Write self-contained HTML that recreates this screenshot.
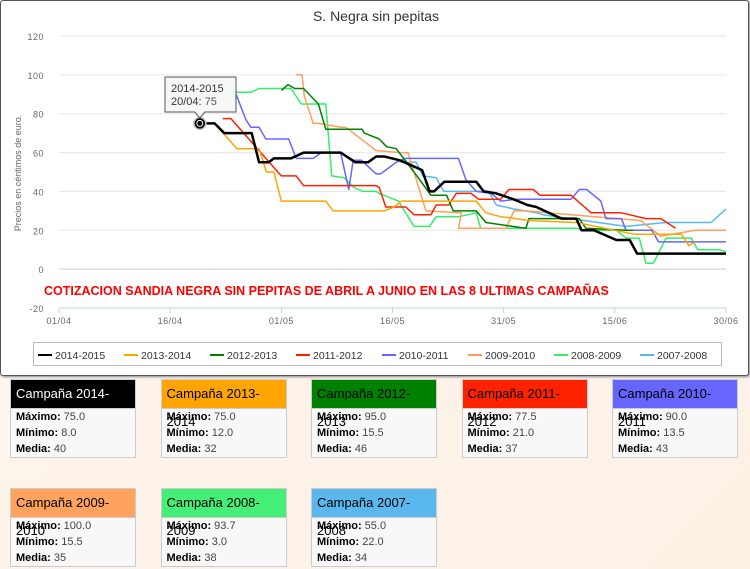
<!DOCTYPE html>
<html><head><meta charset="utf-8">
<style>
body{margin:0;width:750px;height:569px;background:linear-gradient(135deg,#fff 0%,#fdf3ea 40%,#fdf1e6 100%);font-family:"Liberation Sans",sans-serif;position:relative;overflow:hidden}
#chartbox{position:absolute;left:0;top:0;width:747px;height:374px;background:#fff;border:1px solid #555;border-radius:3px;box-shadow:1px 1px 2px #888}
.card{position:absolute;width:124px;height:77px;border:1px solid #ccc;background:#f8f8f8;font-family:"Liberation Sans Narrow","Liberation Sans",sans-serif}
.card .hd{height:28px;line-height:28px;padding-left:5px;font-size:13px;border-bottom:1px solid #ccc}
.card .row{font-size:11px;padding-left:5px;height:16px;line-height:16px;color:#444}
.card .row:first-of-type{margin-top:2px}
.card b{color:#000}
</style></head><body>
<div id="chartbox">
<svg id="svg" width="750" height="375"></svg>
</div>
<div id="cards"></div>
<script>
const NS="http://www.w3.org/2000/svg";
const tickLabelsY=[120,100,80,60,40,20,0,-20];
const tickLabelsX=["01/04","16/04","01/05","16/05","31/05","15/06","30/06"];
const tickDaysX=[0,15,30,45,60,75,90];
const seriesNames=["2014-2015","2013-2014","2012-2013","2011-2012","2010-2011","2009-2010","2008-2009","2007-2008"];
const seriesColors=["#000000","#ffa500","#008000","#ff2000","#6666ff","#ff9f5a","#33ee66","#55bbee"];
const d0=[19,21,22.3,26,27,28.3,29,31.3,33,38,40,41.7,42.8,43.9,46,49,50,50.6,52,56.3,57.3,59,61.3,63.2,64.4,67.8,69.8,70.5,72.2,75.2,77,78,90];
const v0=[75,75,70,70,55,55,57,57,60,60,55,55,58,58,56,51,40,40,45,45,40,39,36,33,32,26,26,20,20,15,15,8,8];
const d1=[21,24,27,28,29,30,36,37,43.9,45.2,46.2,56.3,57.6,59.6,63.6,69.8,77.6,84,85,85.8];
const v1=[75,62,62,50,50,35,35,30,30,32,35,35,29,27,25,24,18,18,12,14];
const d2=[30,30.9,31.8,33,35,36,40.9,41.2,43.2,44.2,45.5,47.9,50.2,52.3,53.2,56.3,57.6,63,63.4,70.2,71.1,76.5,77.5];
const v2=[92,95,93,93,85,72,72,70,67,63,62,50,38,38,30,30,24,21,26,26,21,20,20];
const d3=[22.1,23.2,30,32,33,42.8,43.2,44.1,46.8,47.9,50.2,50.9,52.6,53.6,55.6,56.6,59.6,60.7,64,64.9,69.1,71.8,75.9,79.2,81.2,83.2];
const v3=[77.5,77.5,48,48,43,43,42,32,32,28,28,33,33,39,39,36,36,41,41,38,38,29,29,26,26,21];
const d4=[23.9,25.2,25.9,27,27.9,31,32,34.3,35.4,38,39.1,39.7,40.8,42.8,43.4,45.5,46.7,53.9,54.9,56.3,58.3,59.6,61.7,69.1,70.2,71.2,73.1,73.8,75.9,76.5,80,80.9,90];
const v4=[90,77,73,73,67,67,57,57,60,60,41,56,56,49,49,55,57,57,46,40,39,35,36,36,41,41,35,26,26,20,20,14,14];
const d5=[32,32.8,33.1,34.3,35.1,38,38.7,42.8,46.1,47.1,49.5,54.3,53.9,56.3,60.3,61.4,63,78.5,81.2,85.9,90];
const v5=[100,100,89,75,75,73,73,61,60,60,30,29,21,21,21,30,30,25,17,20,20];
const d6=[23.2,25.9,27,31.3,32.7,36,36.8,38.5,39.8,41,42.8,43.2,45.8,47.9,50,50.9,54,56.3,56.9,69.8,71.1,75.2,76.5,78.3,79.2,80.2,81.9,85.3,86.2,89.1,90];
const v6=[91,91,93,93,85,85,48,47,42,40,40,39,35,22,22,27,27,29,21,21,20,20,16,16,3,3,16,16,10,10,9];
const d7=[46.1,48.2,49.1,50.9,51.9,58,59,61.3,64.4,65.3,76.5,81.9,88,90];
const v7=[55,55,48,47,40,40,33,31,29,28,22,24,24,31];
const seriesDays=[d0,d1,d2,d3,d4,d5,d6,d7];
const seriesVals=[v0,v1,v2,v3,v4,v5,v6,v7];
const yMin=-20,yMax=120,py0=307,py1=35,px0=58,px1=725,dayMax=90;
const X=d=>px0+(px1-px0)*d/dayMax;
const Y=v=>py0-(py0-py1)*(v-yMin)/(yMax-yMin);
const svg=document.getElementById('svg');
function mk(t,a,p){const e=document.createElementNS(NS,t);for(const k in a)e.setAttribute(k,a[k]);(p||svg).appendChild(e);return e;}
let t=mk('text',{x:375,y:20,'text-anchor':'middle','font-size':14,fill:'#333'});t.textContent='S. Negra sin pepitas';


tickLabelsY.forEach(v=>{
 const g=mk('line',{x1:px0,x2:px1,y1:Y(v),y2:Y(v),stroke:v===0?'#ccc':'#e6e6e6','stroke-width':1});
 
 
 const l=mk('text',{x:43,y:Y(v)+4,'text-anchor':'end','font-size':9,fill:'#666','letter-spacing':'0.5'});l.textContent=v;
 
 
});
const ax=mk('line',{x1:px0,x2:px1,y1:py0,y2:py0,stroke:'#c0d0e0'});


tickDaysX.forEach((d,i)=>{
 const tk=mk('line',{x1:X(d),x2:X(d),y1:py0,y2:py0+5,stroke:'#c0d0e0'});
 
 
 const l=mk('text',{x:X(d),y:323,'text-anchor':'middle','font-size':9,fill:'#666','letter-spacing':'0.5'});l.textContent=tickLabelsX[i];
 
 
});
t=mk('text',{x:0,y:0,transform:'translate(20,172) rotate(-90)','text-anchor':'middle','font-size':9,fill:'#666'});t.textContent='Precios en céntimos de euro.';


t=mk('text',{x:43,y:294,'font-size':12.5,fill:'#ff0000','font-weight':'bold'});t.textContent='COTIZACION SANDIA NEGRA SIN PEPITAS DE ABRIL A JUNIO EN LAS 8 ULTIMAS CAMPAÑAS';


for(let s=7;s>=0;s--){
 const pts=seriesDays[s].map((d,i)=>X(d).toFixed(1)+','+Y(seriesVals[s][i]).toFixed(1)).join(' ');
 const p=mk('polyline',{points:pts,fill:'none',stroke:seriesColors[s],'stroke-width':s===0?2.5:1.5,'stroke-linejoin':'round'});
 
 
}
// marker + tooltip
const mx=X(d0[0]),my=Y(v0[0]);
let c=mk('circle',{cx:mx,cy:my,r:6,fill:'#000',stroke:'#ccc','stroke-width':1.5});


mk('circle',{cx:mx,cy:my,r:3,fill:'#000',stroke:'#fff','stroke-width':1});
const tg=mk('g',{});


mk('path',{d:`M164,76 H235 V111 H${mx+5} L${mx},117 L${mx-5},111 H164 Z`,fill:'#f7f7f7',stroke:'#555','stroke-width':1,'fill-opacity':0.95},tg);
t=mk('text',{x:170,y:91,'font-size':11,fill:'#333'},tg);t.textContent='2014-2015';
t=mk('text',{x:170,y:104,'font-size':11,fill:'#333'},tg);t.innerHTML='20/04: <tspan fill="#555">75</tspan>';
// legend
const lg=mk('g',{});


mk('rect',{x:32.5,y:341.5,width:688,height:23,fill:'#fff',stroke:'#bbb'},lg);
seriesNames.forEach((n,i)=>{
 const x=37+i*86;
 const e=mk('g',{},lg);
 
 
 mk('line',{x1:x,x2:x+14,y1:354,y2:354,stroke:seriesColors[i],'stroke-width':2},e);
 const tx=mk('text',{x:x+17,y:358,'font-size':10.5,fill:'#333'},e);tx.textContent=n;
});
// stat cards
const cardMax=["75.0","75.0","95.0","77.5","90.0","100.0","93.7","55.0"];
const cardMin=["8.0","12.0","15.5","21.0","13.5","15.5","3.0","22.0"];
const cardMed=["40","32","46","37","43","35","38","34"];
const cardBg=["#000000","#ffa500","#008000","#ff2200","#6666ff","#ffa25e","#44ee77","#5bb8ee"];
const cards=document.getElementById('cards');
seriesNames.forEach((n,i)=>{
 const col=i%5,row=Math.floor(i/5);
 const d=document.createElement('div');
 d.className='card';
 
 
 d.style.left=(10+col*150.5)+'px';d.style.top=(379+row*109)+'px';
 d.innerHTML=`<div class="hd" style="background:${cardBg[i]};color:${i===0?'#fff':'#000'}">Campaña ${n}</div><div class="row"><b>Máximo:</b> ${cardMax[i]}</div><div class="row"><b>Mínimo:</b> ${cardMin[i]}</div><div class="row"><b>Media:</b> ${cardMed[i]}</div>`;
 cards.appendChild(d);
});
</script>
</body></html>
